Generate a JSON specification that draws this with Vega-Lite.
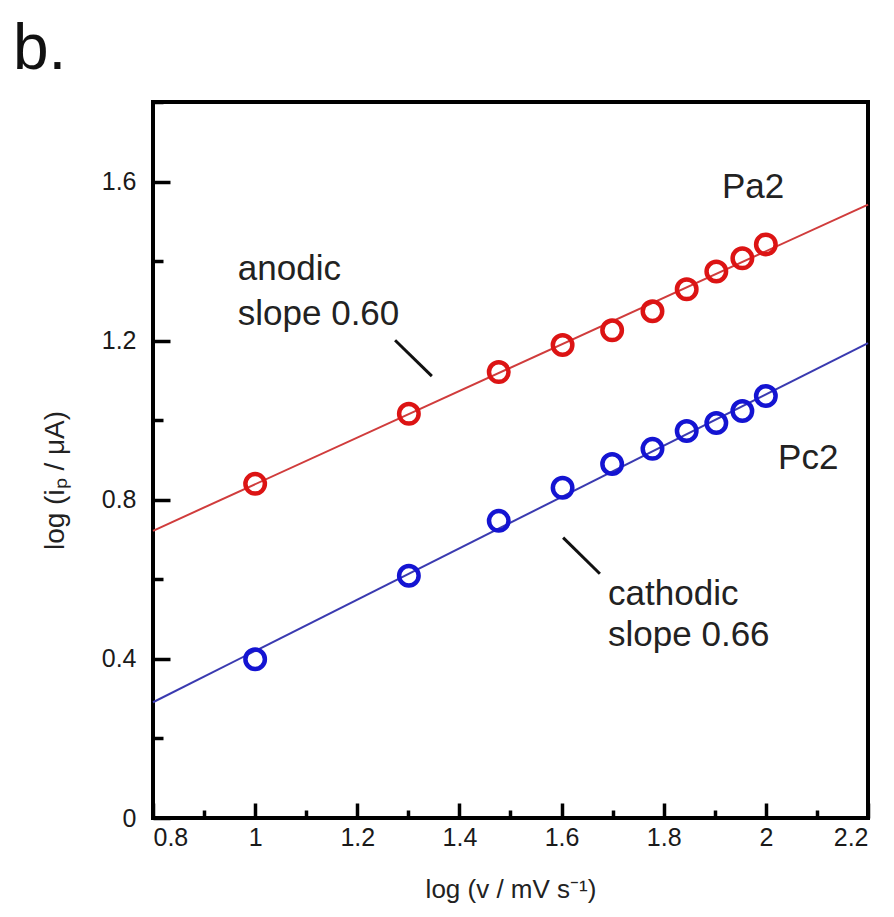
{
  "$schema": "https://vega.github.io/schema/vega-lite/v6.json",
  "autosize": "none",
  "width": 715,
  "height": 716,
  "padding": {"left": 153, "top": 102, "right": 26, "bottom": 99},
  "background": "white",
  "title": {"text": "b.", "anchor": "start", "frame": "group", "fontSize": 64, "fontWeight": "normal", "font": "Liberation Sans", "color": "#111", "dx": -140, "dy": 65, "offset": 32, "baseline": "alphabetic"},
  "config": {
    "view": {"stroke": "black", "strokeWidth": 4},
    "axis": {"grid": false, "domain": false, "tickColor": "black", "tickWidth": 3.5, "labelFont": "Liberation Sans", "labelFontSize": 25, "labelColor": "#1a1a1a", "titleFont": "Liberation Sans", "titleFontSize": 26, "titleFontWeight": "normal", "titleColor": "#222"},
    "text": {"font": "Liberation Sans"}
  },
  "resolve": {"scale": {"color": "independent"}},
  "datasets": {
    "points": [
      {"x": 1.0, "y": 0.84, "series": "anodic"},
      {"x": 1.301, "y": 1.016, "series": "anodic"},
      {"x": 1.477, "y": 1.121, "series": "anodic"},
      {"x": 1.602, "y": 1.189, "series": "anodic"},
      {"x": 1.699, "y": 1.226, "series": "anodic"},
      {"x": 1.778, "y": 1.274, "series": "anodic"},
      {"x": 1.845, "y": 1.329, "series": "anodic"},
      {"x": 1.903, "y": 1.374, "series": "anodic"},
      {"x": 1.954, "y": 1.407, "series": "anodic"},
      {"x": 2.0, "y": 1.442, "series": "anodic"},
      {"x": 1.0, "y": 0.399, "series": "cathodic"},
      {"x": 1.301, "y": 0.609, "series": "cathodic"},
      {"x": 1.477, "y": 0.747, "series": "cathodic"},
      {"x": 1.602, "y": 0.83, "series": "cathodic"},
      {"x": 1.699, "y": 0.89, "series": "cathodic"},
      {"x": 1.778, "y": 0.928, "series": "cathodic"},
      {"x": 1.845, "y": 0.973, "series": "cathodic"},
      {"x": 1.903, "y": 0.993, "series": "cathodic"},
      {"x": 1.954, "y": 1.023, "series": "cathodic"},
      {"x": 2.0, "y": 1.061, "series": "cathodic"}
    ],
    "fits": [
      {"x": 0.8, "y": 0.722, "series": "anodic"},
      {"x": 2.2, "y": 1.542, "series": "anodic"},
      {"x": 0.8, "y": 0.291, "series": "cathodic"},
      {"x": 2.2, "y": 1.194, "series": "cathodic"}
    ],
    "pointers": [
      {"x": 1.274, "y": 1.201, "x2": 1.346, "y2": 1.111},
      {"x": 1.603, "y": 0.705, "x2": 1.675, "y2": 0.614}
    ],
    "labels": [
      {"x": 0.966, "y": 1.379, "text": "anodic"},
      {"x": 0.966, "y": 1.266, "text": "slope 0.60"},
      {"x": 1.691, "y": 0.564, "text": "cathodic"},
      {"x": 1.691, "y": 0.459, "text": "slope 0.66"},
      {"x": 1.914, "y": 1.587, "text": "Pa2"},
      {"x": 2.024, "y": 0.905, "text": "Pc2"}
    ]
  },
  "encoding": {
    "x": {"field": "x", "type": "quantitative",
      "scale": {"domain": [0.8, 2.2], "nice": false, "zero": false},
      "axis": {
        "title": "log (v / mV s⁻¹)",
        "values": [0.8, 0.9, 1.0, 1.1, 1.2, 1.3, 1.4, 1.5, 1.6, 1.7, 1.8, 1.9, 2.0, 2.1, 2.2],
        "tickSize": {"condition": {"test": "round(datum.value*10)%2==0", "value": -15}, "value": -8},
        "labelExpr": "round(datum.value*10)%2==0 ? format(datum.value, '.1~f') : ''",
        "labelPadding": 22,
        "titleY": 71, "titleBaseline": "middle"
      }
    },
    "y": {"field": "y", "type": "quantitative",
      "scale": {"domain": [0, 1.8], "nice": false, "zero": false},
      "axis": {
        "title": "log (iₚ / μA)",
        "titleFontSize": 28,
        "values": [0, 0.2, 0.4, 0.6, 0.8, 1.0, 1.2, 1.4, 1.6, 1.8],
        "tickSize": {"condition": {"test": "round(datum.value*5)%2==0", "value": -17}, "value": -10},
        "labelExpr": "round(datum.value*5)%2==0 ? format(datum.value, '.1~f') : ''",
        "labelPadding": 34,
        "titleX": -98, "titleY": 378, "titleBaseline": "middle", "titleAlign": "center", "titleAngle": -90
      }
    }
  },
  "layer": [
    {
      "data": {"name": "fits"},
      "mark": {"type": "line", "strokeWidth": 2},
      "encoding": {
        "color": {"field": "series", "type": "nominal", "scale": {"domain": ["anodic", "cathodic"], "range": ["#d03c3c", "#3a3ab0"]}, "legend": null}
      }
    },
    {
      "data": {"name": "points"},
      "mark": {"type": "point", "shape": "circle", "filled": false, "strokeWidth": 4.5, "size": 380, "opacity": 1},
      "encoding": {
        "color": {"field": "series", "type": "nominal", "scale": {"domain": ["anodic", "cathodic"], "range": ["#dc1414", "#1414d2"]}, "legend": null}
      }
    },
    {
      "data": {"name": "pointers"},
      "mark": {"type": "rule", "color": "#111", "strokeWidth": 3},
      "encoding": {
        "x2": {"field": "x2"},
        "y2": {"field": "y2"}
      }
    },
    {
      "data": {"name": "labels"},
      "mark": {"type": "text", "align": "left", "baseline": "middle", "fontSize": 35, "color": "#222"},
      "encoding": {
        "text": {"field": "text", "type": "nominal"}
      }
    }
  ]
}
